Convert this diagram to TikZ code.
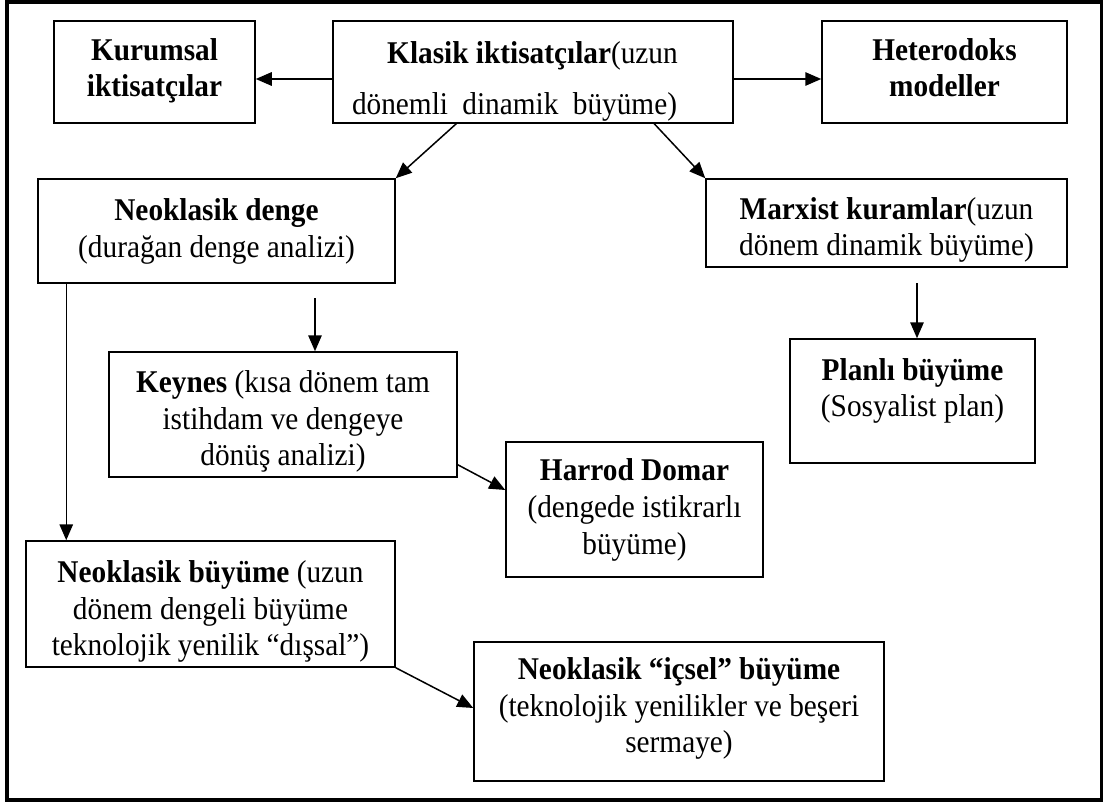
\documentclass[tikz,border=0pt]{standalone}
\usepackage{fontspec}
\usepackage{graphicx}
\setmainfont{Liberation Serif}
\usetikzlibrary{arrows.meta}
\newcommand\tlines[2]{\scalebox{1}[1.08]{\fontsize{29.3}{#1}\selectfont\begin{tabular}{@{}c@{}}#2\end{tabular}}}
\begin{document}
\begin{tikzpicture}[x=1pt,y=1pt,
  box/.style={draw, line width=1.5pt, inner sep=0pt, rectangle},
  txt/.style={inner sep=0pt},
  arr/.style={line width=1.5pt, -{Triangle[length=16pt,width=13.5pt]}},
  outerframe/.style={draw, line width=3.5pt, inner sep=0pt, rectangle}]
\useasboundingbox (0,0) rectangle (1105,-802);
\node[outerframe, minimum width=1094.5pt, minimum height=798pt] (frame) at (554.25,-401) {};
% boxes
\node[box, minimum width=201pt, minimum height=102pt] (kurum) at (154.5,-72) {};
\node[box, minimum width=400pt, minimum height=102pt] (klasik) at (533,-72) {};
\node[box, minimum width=245pt, minimum height=102pt] (hetero) at (944.5,-72) {};
\node[box, minimum width=357pt, minimum height=104pt] (denge) at (216.5,-231) {};
\node[box, minimum width=361pt, minimum height=88pt] (marx) at (886.5,-223) {};
\node[box, minimum width=348pt, minimum height=125pt] (keynes) at (283,-414.5) {};
\node[box, minimum width=245pt, minimum height=124pt] (plan) at (912.5,-401) {};
\node[box, minimum width=257pt, minimum height=135pt] (harrod) at (634.5,-509.5) {};
\node[box, minimum width=369pt, minimum height=126pt] (neobuy) at (210.5,-604) {};
\node[box, minimum width=410pt, minimum height=139pt] (icsel) at (679,-711.5) {};
% texts
\node[txt] (kurumT) at (154.5,-71) {\tlines{33.8}{\textbf{Kurumsal}\\\textbf{iktisatçılar}}};
\node[txt] (klasikT) at (514.5,-79) {\tlines{47.2}{\hspace*{36pt}\textbf{Klasik iktisatçılar}(uzun\\\makebox[325pt][s]{dönemli dinamik büyüme)}}};
\node[txt] (heteroT) at (944.5,-71) {\tlines{33.8}{\textbf{Heterodoks}\\\textbf{modeller}}};
\node[txt] (dengeT) at (216.5,-231.5) {\tlines{33.8}{\textbf{Neoklasik denge}\\(durağan denge analizi)}};
\node[txt] (marxT) at (886.5,-230) {\tlines{33.8}{\textbf{Marxist kuramlar}(uzun\\dönem dinamik büyüme)}};
\node[txt] (keynesT) at (283,-422) {\tlines{33.8}{\textbf{Keynes} (kısa dönem tam\\istihdam ve dengeye\\dönüş analizi)}};
\node[txt] (planT) at (912.5,-391) {\tlines{33.8}{\textbf{Planlı büyüme}\\(Sosyalist plan)}};
\node[txt] (harrodT) at (634.5,-510) {\tlines{34.7}{\textbf{Harrod Domar}\\(dengede istikrarlı\\büyüme)}};
\node[txt] (neobuyT) at (210.5,-612) {\tlines{33.8}{\textbf{Neoklasik büyüme} (uzun\\dönem dengeli büyüme\\teknolojik yenilik “dışsal”)}};
\node[txt] (icselT) at (679,-709) {\tlines{33.8}{\textbf{Neoklasik “içsel” büyüme}\\(teknolojik yenilikler ve beşeri\\sermaye)}};
% free connector ends
\coordinate (c5) at (315,-298);
\coordinate (c6) at (917,-283);
% connectors
\draw[arr] ([yshift=-7pt]klasik.west) -- ([yshift=-7pt]kurum.east);
\draw[arr] ([yshift=-7pt]klasik.east) -- ([yshift=-7pt]hetero.west);
\draw[arr] ([xshift=124pt]klasik.south west) -- (denge.north east);
\draw[arr] ([xshift=322pt]klasik.south west) -- (marx.north west);
\draw[arr] (c5) -- (c5 |- keynes.north);
\draw[arr] (c6) -- (c6 |- plan.north);
\draw[arr] ([xshift=29pt]denge.south west) -- ([xshift=41pt]neobuy.north west);
\draw[arr] ([yshift=13pt]keynes.south east) -- ([yshift=19.5pt]harrod.west);
\draw[arr] (neobuy.south east) -- ([yshift=3.5pt]icsel.west);
\end{tikzpicture}
\end{document}
